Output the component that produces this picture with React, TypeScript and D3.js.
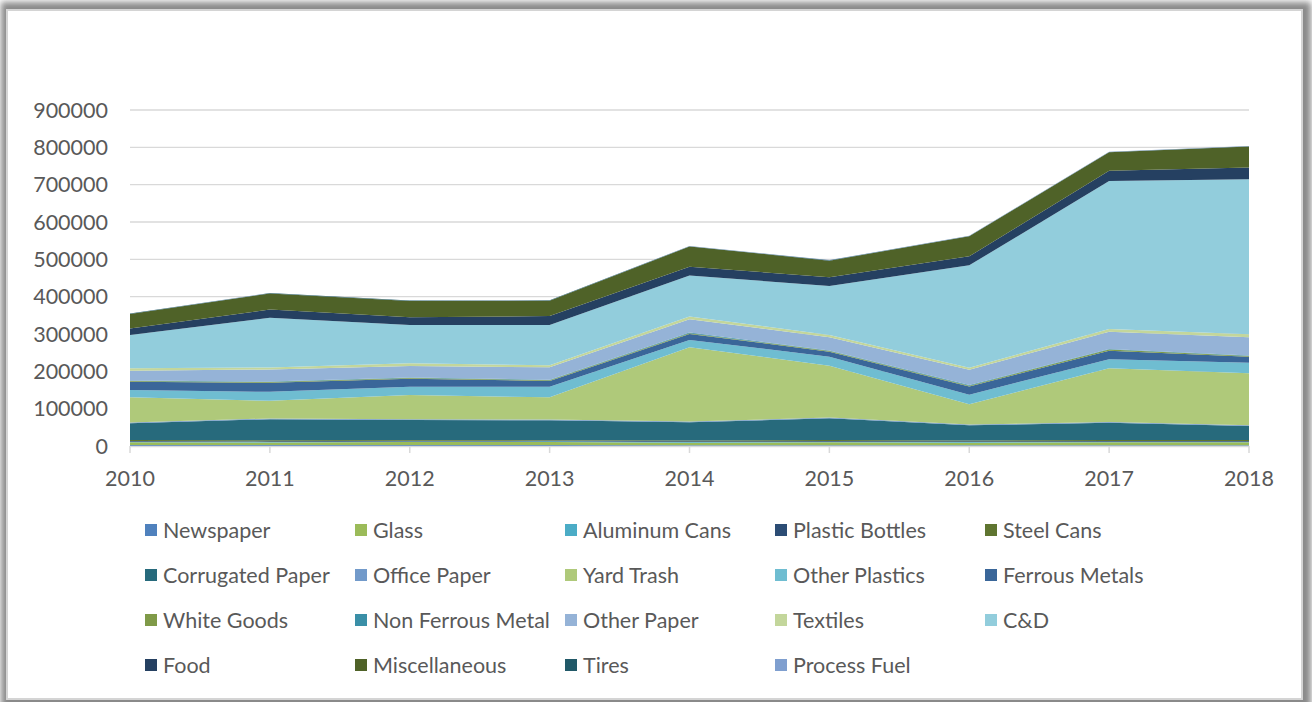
import React, { useRef, useEffect } from 'react';
import * as d3 from 'd3';

// years on the x axis
const years = [2010, 2011, 2012, 2013, 2014, 2015, 2016, 2017, 2018];

// tonnage per material, bottom of the stack first
const newspaper = [3000, 2500, 2500, 3000, 2000, 2000, 2000, 2000, 2000];
const glass = [7000, 7000, 8000, 8000, 7000, 8000, 7000, 8000, 8000];
const aluminumCans = [1500, 1500, 1500, 1500, 1500, 1500, 1500, 1500, 1500];
const plasticBottles = [2000, 2000, 2000, 2000, 2000, 2000, 2000, 2000, 2000];
const steelCans = [2500, 2500, 2000, 1500, 2000, 2500, 2500, 2500, 2500];
const corrugatedPaper = [44800, 56300, 53600, 52800, 49100, 58200, 40300, 46400, 37600];
const officePaper = [2000, 2000, 2000, 2000, 2000, 2000, 2000, 2000, 2000];
const yardTrash = [67700, 47100, 65000, 59600, 198900, 138900, 54200, 143700, 139400];
const otherPlastics = [19500, 24100, 22300, 28500, 19700, 24100, 26000, 24100, 28200];
const ferrousMetals = [22000, 24100, 21400, 15200, 16100, 13400, 22200, 23100, 16000];
const whiteGoods = [2000, 2000, 2000, 2000, 2000, 2000, 2000, 3000, 2000];
const nonFerrousMetal = [1500, 1500, 1500, 1500, 1500, 1500, 1500, 1500, 1500];
const otherPaper = [26200, 32300, 30500, 33200, 35600, 35200, 41200, 46400, 48500];
const textiles = [6400, 5400, 7200, 5300, 7200, 6200, 5400, 7200, 8000];
const cd = [88900, 132900, 102600, 108000, 109800, 131200, 274100, 396500, 415100];
const food = [18000, 22300, 20600, 24100, 24000, 23300, 24100, 27600, 31500];
const miscellaneous = [38600, 43000, 43700, 41000, 53800, 44500, 53600, 49200, 56300];
const tires = [1000, 1000, 1000, 1000, 1000, 1000, 1000, 1000, 1000];
const processFuel = [500, 500, 500, 500, 500, 500, 500, 500, 500];

const yTicks = [0, 100000, 200000, 300000, 400000, 500000, 600000, 700000, 800000, 900000];

const series = [
  { name: 'Newspaper', values: newspaper, color: '#4F81BD' },
  { name: 'Glass', values: glass, color: '#9BBB59' },
  { name: 'Aluminum Cans', values: aluminumCans, color: '#4BACC6' },
  { name: 'Plastic Bottles', values: plasticBottles, color: '#2C4D75' },
  { name: 'Steel Cans', values: steelCans, color: '#5F7530' },
  { name: 'Corrugated Paper', values: corrugatedPaper, color: '#276A7C' },
  { name: 'Office Paper', values: officePaper, color: '#729ACA' },
  { name: 'Yard Trash', values: yardTrash, color: '#AFC97A' },
  { name: 'Other Plastics', values: otherPlastics, color: '#6FBDD1' },
  { name: 'Ferrous Metals', values: ferrousMetals, color: '#3A6699' },
  { name: 'White Goods', values: whiteGoods, color: '#7F9A48' },
  { name: 'Non Ferrous Metal', values: nonFerrousMetal, color: '#3A8FA7' },
  { name: 'Other Paper', values: otherPaper, color: '#95B3D7' },
  { name: 'Textiles', values: textiles, color: '#C3D69B' },
  { name: 'C&D', values: cd, color: '#92CDDC' },
  { name: 'Food', values: food, color: '#254061' },
  { name: 'Miscellaneous', values: miscellaneous, color: '#4F6228' },
  { name: 'Tires', values: tires, color: '#215968' },
  { name: 'Process Fuel', values: processFuel, color: '#7F9FCF' },
];

const W = 1312;
const H = 702;
const FONT = 'Lato, "Open Sans", sans-serif';
const FONT_SIZE = '21.5px';

const App = () => {
  const svgRef = useRef<SVGSVGElement | null>(null);

  useEffect(() => {
    if (!svgRef.current) return;
    const svg = d3.select(svgRef.current);
    svg.selectAll('*').remove();

    // frame with soft shadow
    const defs = svg.append('defs');
    defs.append('filter')
      .attr('id', 'shadow')
      .attr('x', '-5%').attr('y', '-5%').attr('width', '110%').attr('height', '110%')
      .append('feGaussianBlur')
      .attr('stdDeviation', 3);

    svg.append('rect')
      .attr('x', 1).attr('y', 2).attr('width', W - 2).attr('height', H + 20)
      .attr('fill', '#8a8a8a')
      .attr('filter', 'url(#shadow)');
    svg.append('rect')
      .attr('x', 7).attr('y', 10).attr('width', 1295).attr('height', 689)
      .attr('fill', '#fff')
      .attr('stroke', '#d4d4d4')
      .attr('stroke-width', 2);

    const x = d3.scalePoint<number>().domain(years).range([130, 1249]);
    const y = d3.scaleLinear().domain([0, 900000]).range([446, 110]);

    // gridlines
    svg.append('g')
      .selectAll('line')
      .data(yTicks.filter(t => t > 0))
      .enter()
      .append('line')
      .attr('x1', 130).attr('x2', 1249)
      .attr('y1', d => y(d)).attr('y2', d => y(d))
      .attr('stroke', '#d9d9d9')
      .attr('stroke-width', 1.3);

    // stacked areas
    const rows = years.map((yr, i) => {
      const r: any = { year: yr };
      series.forEach(s => { r[s.name] = s.values[i]; });
      return r;
    });
    const stack = d3.stack().keys(series.map(s => s.name));
    const layers = stack(rows);
    const area = d3.area<any>()
      .x(d => x(d.data.year) as number)
      .y0(d => y(d[0]))
      .y1(d => y(d[1]));

    svg.append('g')
      .selectAll('path')
      .data(layers)
      .enter()
      .append('path')
      .attr('d', area)
      .attr('fill', (d, i) => series[i].color);

    // x axis line + ticks
    svg.append('line')
      .attr('x1', 130).attr('x2', 1249)
      .attr('y1', 446.5).attr('y2', 446.5)
      .attr('stroke', '#d9d9d9').attr('stroke-width', 1.5);
    svg.append('g')
      .selectAll('line')
      .data(years)
      .enter()
      .append('line')
      .attr('x1', d => x(d) as number).attr('x2', d => x(d) as number)
      .attr('y1', 446).attr('y2', 453)
      .attr('stroke', '#d9d9d9').attr('stroke-width', 1.5);

    // y labels
    svg.append('g')
      .selectAll('text')
      .data(yTicks)
      .enter()
      .append('text')
      .attr('x', 108)
      .attr('y', d => y(d))
      .attr('dy', '0.36em')
      .attr('text-anchor', 'end')
      .attr('fill', '#595959')
      .style('font-family', FONT)
      .style('font-size', FONT_SIZE)
      .text(d => String(d));

    // x labels
    svg.append('g')
      .selectAll('text')
      .data(years)
      .enter()
      .append('text')
      .attr('x', d => x(d) as number)
      .attr('y', 478)
      .attr('dy', '0.36em')
      .attr('text-anchor', 'middle')
      .attr('fill', '#595959')
      .style('font-family', FONT)
      .style('font-size', FONT_SIZE)
      .text(d => String(d));

    // legend
    const legend = svg.append('g')
      .selectAll('g')
      .data(series)
      .enter()
      .append('g')
      .attr('transform', (d, i) => `translate(${145 + (i % 5) * 210}, ${530 + Math.floor(i / 5) * 45})`);
    legend.append('rect')
      .attr('x', 0).attr('y', -6)
      .attr('width', 12).attr('height', 12)
      .attr('fill', d => d.color);
    legend.append('text')
      .attr('x', 18).attr('y', 0)
      .attr('dy', '0.36em')
      .attr('fill', '#595959')
      .style('font-family', FONT)
      .style('font-size', FONT_SIZE)
      .text(d => d.name);
  }, []);

  return (
    <div style={{ position: 'fixed', left: 0, top: 0, width: W, height: H, background: '#fff' }}>
      <svg ref={svgRef} width={W} height={H} style={{ display: 'block' }}></svg>
    </div>
  );
};

export default App;
